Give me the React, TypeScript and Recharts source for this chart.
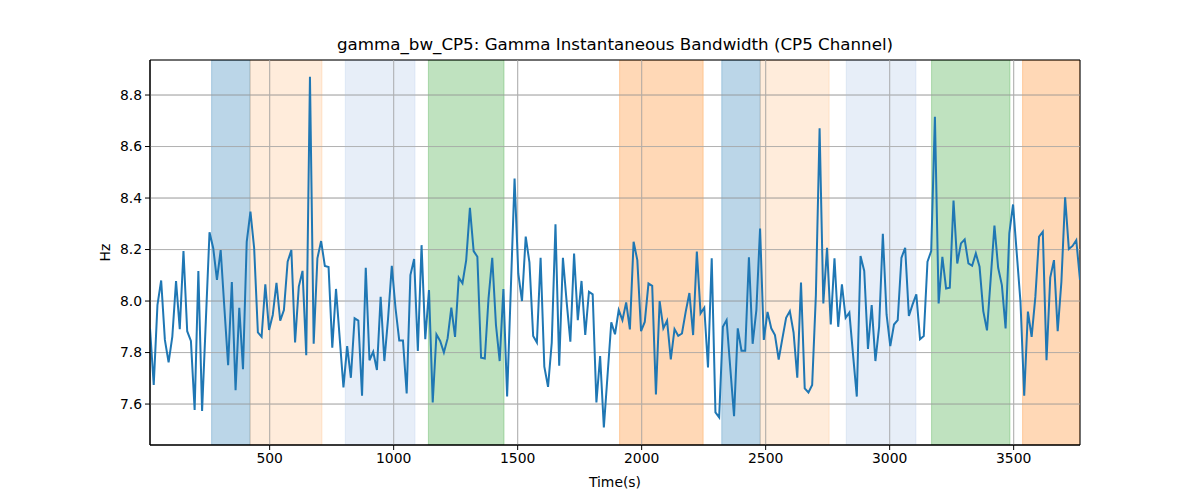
import React from "react";
import { LineChart, Line, XAxis, YAxis, CartesianGrid, ReferenceArea, ReferenceLine, Label } from "recharts";

// samples are every 15 s starting at T0
const T0 = 17.5;
const STEP = 15;

const BANDWIDTH = [
  7.894, 7.674, 7.984, 8.08, 7.849, 7.762, 7.862, 8.078, 7.891, 8.194,
  7.883, 7.845, 7.577, 8.117, 7.573, 7.92, 8.267, 8.205, 8.082, 8.198,
  7.972, 7.751, 8.074, 7.654, 7.974, 7.735, 8.23, 8.347, 8.205, 7.878,
  7.861, 8.065, 7.888, 7.946, 8.071, 7.924, 7.965, 8.153, 8.198, 7.839,
  8.056, 8.117, 7.79, 8.871, 7.834, 8.166, 8.233, 8.136, 8.132, 7.819,
  8.047, 7.855, 7.665, 7.825, 7.702, 7.933, 7.924, 7.632, 8.129, 7.77,
  7.803, 7.732, 8.016, 7.767, 7.933, 8.137, 7.972, 7.847, 7.847, 7.641,
  8.101, 8.163, 7.806, 8.217, 7.852, 8.043, 7.606, 7.87, 7.845, 7.8,
  7.855, 7.974, 7.861, 8.091, 8.069, 8.159, 8.362, 8.194, 8.172, 7.78,
  7.777, 8.01, 8.168, 7.907, 7.767, 8.047, 7.629, 8.049, 8.476, 8.107,
  8.0, 8.25, 8.15, 7.864, 7.839, 8.168, 7.745, 7.667, 7.839, 8.298,
  7.749, 8.168, 7.997, 7.842, 8.184, 7.926, 8.078, 7.868, 8.036, 8.026,
  7.606, 7.786, 7.509, 7.713, 7.917, 7.871, 7.965, 7.926, 7.995, 7.89,
  8.23, 8.159, 7.883, 7.919, 8.068, 8.059, 7.637, 8.0, 7.894, 7.924,
  7.773, 7.891, 7.865, 7.874, 7.958, 8.031, 7.868, 8.192, 7.952, 7.974,
  7.742, 8.166, 7.568, 7.548, 7.9, 7.926, 7.738, 7.553, 7.894, 7.807,
  7.807, 8.17, 7.834, 7.965, 8.282, 7.849, 7.958, 7.894, 7.868, 7.773,
  7.855, 7.935, 7.961, 7.878, 7.702, 8.072, 7.661, 7.645, 7.674, 8.023,
  8.671, 7.991, 8.207, 7.909, 8.166, 7.9, 8.065, 7.935, 7.955, 7.79,
  7.629, 8.175, 8.117, 7.814, 7.984, 7.767, 7.9, 8.261, 7.948, 7.825,
  7.909, 7.926, 8.168, 8.207, 7.942, 7.987, 8.026, 7.852, 7.864, 8.153,
  8.194, 8.716, 7.991, 8.172, 8.049, 8.052, 8.39, 8.146, 8.224, 8.239,
  8.146, 8.137, 8.185, 8.133, 7.961, 7.886, 8.088, 8.293, 8.129, 8.062,
  7.894, 8.263, 8.375, 8.185, 7.997, 7.632, 7.959, 7.861, 8.016, 8.25,
  8.269, 7.77, 8.091, 8.159, 7.883, 8.075, 8.403, 8.202, 8.214, 8.236,
  8.082,
];

const X_TICKS = [500, 1000, 1500, 2000, 2500, 3000, 3500];
const Y_TICKS = [7.6, 7.8, 8.0, 8.2, 8.4, 8.6, 8.8];

const SPAN_START = [266, 421, 805, 1140, 1911, 2323, 2478, 2825, 3169, 3536];
const SPAN_END = [421, 711, 1086, 1445, 2248, 2478, 2756, 3106, 3485, 3767.5];
const SPAN_KIND = ["blue", "peach", "lavender", "green", "orange", "blue", "peach", "lavender", "green", "orange"];

const SPAN_STYLE: Record<string, { fill: string; opacity: number }> = {
  blue: { fill: "#1f77b4", opacity: 0.3 },
  peach: { fill: "#ff7f0e", opacity: 0.15 },
  lavender: { fill: "#aec7e8", opacity: 0.3 },
  green: { fill: "#2ca02c", opacity: 0.3 },
  orange: { fill: "#ff7f0e", opacity: 0.3 },
};

const X_MIN = T0;
const X_MAX = T0 + STEP * (BANDWIDTH.length - 1);
const Y_MIN = 7.441;
const Y_MAX = 8.936;

const FONT = "DejaVu Sans";
const GRID = "#b0b0b0";

const data = BANDWIDTH.map((v, i) => ({ t: T0 + i * STEP, v }));

const App: React.FC = () => {
  return (
    <div
      style={{
        position: "absolute",
        left: 0,
        top: 0,
        width: 1200,
        height: 500,
        background: "#fff",
        fontFamily: FONT,
      }}
    >
      <div
        style={{
          position: "absolute",
          left: 150,
          width: 930,
          top: 36,
          textAlign: "center",
          fontSize: 16.7,
          lineHeight: 1,
          color: "#000",
        }}
      >
        gamma_bw_CP5: Gamma Instantaneous Bandwidth (CP5 Channel)
      </div>
      <LineChart
        width={1200}
        height={500}
        data={data}
        margin={{ top: 60, right: 120, bottom: 10, left: 100 }}
      >
        <CartesianGrid stroke={GRID} strokeWidth={0.8} />
        {SPAN_START.map((x1, i) => {
          const s = SPAN_STYLE[SPAN_KIND[i]];
          return (
            <ReferenceArea
              key={"s" + i}
              x1={x1}
              x2={SPAN_END[i]}
              fill={s.fill}
              fillOpacity={s.opacity}
              stroke={s.fill}
              strokeOpacity={s.opacity}
              ifOverflow="hidden"
            />
          );
        })}
        {/* grid drawn again over the shaded spans, like matplotlib */}
        {X_TICKS.map((x) => (
          <ReferenceLine key={"gx" + x} x={x} stroke={GRID} strokeWidth={0.8} />
        ))}
        {Y_TICKS.map((y) => (
          <ReferenceLine key={"gy" + y} y={y} stroke={GRID} strokeWidth={0.8} />
        ))}
        <XAxis
          type="number"
          dataKey="t"
          domain={[X_MIN, X_MAX]}
          ticks={X_TICKS}
          allowDataOverflow
          height={45}
          tickSize={5}
          tickMargin={3}
          tick={{ fill: "#000", fontSize: 13.9, fontFamily: FONT }}
          stroke="#000"
        >
          <Label
            value="Time(s)"
            position="insideBottom"
            offset={3}
            style={{ fill: "#000", fontSize: 13.9, fontFamily: FONT }}
          />
        </XAxis>
        <YAxis
          type="number"
          domain={[Y_MIN, Y_MAX]}
          ticks={Y_TICKS}
          allowDataOverflow
          width={50}
          tickSize={5}
          tickMargin={3}
          tickFormatter={(v: number) => v.toFixed(1)}
          tick={{ fill: "#000", fontSize: 13.9, fontFamily: FONT }}
          stroke="#000"
        >
          <Label
            value="Hz"
            angle={-90}
            position="insideLeft"
            offset={5}
            style={{ fill: "#000", fontSize: 13.9, fontFamily: FONT, textAnchor: "middle" }}
          />
        </YAxis>
        <Line
          type="linear"
          dataKey="v"
          stroke="#1f77b4"
          strokeWidth={2}
          dot={false}
          activeDot={false}
          isAnimationActive={false}
        />
        <ReferenceArea
          x1={X_MIN}
          x2={X_MAX}
          y1={Y_MIN}
          y2={Y_MAX}
          fill="none"
          stroke="#000"
          strokeWidth={1}
        />
      </LineChart>
    </div>
  );
};

export default App;
